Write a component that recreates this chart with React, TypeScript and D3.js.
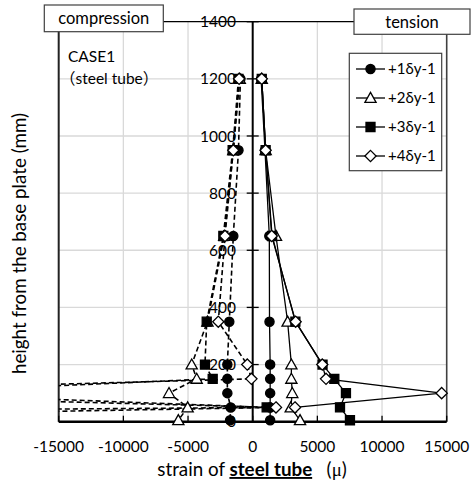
import React from "react";
import * as d3 from "d3";

// Gauge heights above the base plate (mm)
const heights = [1200, 950, 650, 350, 200, 150, 100, 50, 5];

// Legend labels for the four loading cycles
const seriesNames = ["+1δy-1", "+2δy-1", "+3δy-1", "+4δy-1"];

// Strain on the tension side (μ); null = no reading
const tension1 = [650, 950, 1285, 1300, 1350, 1350, 1350, 1350, 1350];
const tension2 = [700, 1000, 1800, 2700, 2990, 2990, 3060, 2940, 3660];
const tension3 = [700, 1000, 1500, 3300, 5400, 6310, 7210, 6750, 7520];
const tension4 = [700, 1000, 1470, 3320, 5380, 5670, 14610, 3270, null];

// Strain on the compression side (μ)
const compression1 = [-950, -1100, -1500, -1810, -1960, -1960, -1960, -1700, -1750];
const compression2 = [-1000, -1500, -2200, -3500, -4716, -4330, -6470, -5030, -5750];
const compression3 = [-1100, -1550, -2270, -3556, -3690, -3093, -28000, 1080, -126000];
const compression4 = [-1050, -1500, -2140, -2660, -420, -100, -40000, 1800, -54600];

const xTicks = [-15000, -10000, -5000, 0, 5000, 10000, 15000];
const yTicks = [0, 200, 400, 600, 800, 1000, 1200, 1400];

const W = 471;
const H = 485;
const FONT = "Lato, 'Noto Sans CJK JP', sans-serif";
const CJK = "'Noto Sans CJK JP', sans-serif";

const x = d3.scaleLinear().domain([-15000, 15000]).range([58.7, 446.7]);
const y = d3.scaleLinear().domain([0, 1400]).range([421.7, 21.7]);

type Shape = "circle" | "triangle" | "square" | "diamond";
const shapes: Shape[] = ["circle", "triangle", "square", "diamond"];

function markerPath(s: Shape): string {
  switch (s) {
    case "circle":
      return "M4.6,0A4.6,4.6,0,1,1,-4.6,0A4.6,4.6,0,1,1,4.6,0Z";
    case "triangle":
      return "M0,-5.6L5.6,4.4L-5.6,4.4Z";
    case "square":
      return "M-4.5,-4.5H4.5V4.5H-4.5Z";
    case "diamond":
      return "M0,-5.6L5.6,0L0,5.6L-5.6,0Z";
  }
}
const filled = (s: Shape) => s === "circle" || s === "square";

const tensionSeries = [tension1, tension2, tension3, tension4];
const compressionSeries = [compression1, compression2, compression3, compression4];

type Pt = { v: number; h: number };
const toPoints = (vals: (number | null)[]): Pt[] =>
  vals
    .map((v, i) => (v === null ? null : { v: v as number, h: heights[i] }))
    .filter((p): p is Pt => p !== null);

const line = d3
  .line<Pt>()
  .x((d) => x(d.v))
  .y((d) => y(d.h));

export default function App() {
  const [x0, x1] = x.range();
  const [yb, yt] = y.range();

  const marker = (s: Shape, cx: number, cy: number, key: string) => (
    <path
      key={key}
      d={markerPath(s)}
      transform={`translate(${cx},${cy})`}
      fill={filled(s) ? "#000" : "#fff"}
      stroke="#000"
      strokeWidth={1.3}
    />
  );

  return (
    <svg
      width={W}
      height={H}
      style={{ position: "absolute", left: 0, top: 0, background: "#fff" }}
      fontFamily={FONT}
    >
      <defs>
        <clipPath id="plotClip">
          <rect x={x0} y={yt} width={x1 - x0} height={yb - yt} />
        </clipPath>
      </defs>
      <rect width={W} height={H} fill="#fff" />

      {/* grid */}
      {xTicks.slice(1, -1).filter((t) => t !== 0).map((t) => (
        <line key={"gx" + t} x1={x(t)} x2={x(t)} y1={yt} y2={yb} stroke="#d9d9d9" strokeWidth={1.3} />
      ))}
      {yTicks.slice(1, -1).map((t) => (
        <line key={"gy" + t} x1={x0} x2={x1} y1={y(t)} y2={y(t)} stroke="#d9d9d9" strokeWidth={1.3} />
      ))}

      {/* plot frame */}
      <line x1={x0} x2={x1} y1={yt} y2={yt} stroke="#000" strokeWidth={1.2} />
      <line x1={x0} x2={x0} y1={yt} y2={yb} stroke="#222" strokeWidth={2} />
      <line x1={x1} x2={x1} y1={yt} y2={yb} stroke="#404040" strokeWidth={1.6} />

      {/* y tick labels */}
      {yTicks.map((t) => (
        <text key={"yl" + t} x={236} y={y(t)} dy="0.36em" textAnchor="end" fontSize={15.5} fill="#000">
          {t}
        </text>
      ))}

      {/* axes at zero */}
      <line x1={x(0)} x2={x(0)} y1={yt} y2={yb} stroke="#000" strokeWidth={2} />
      {yTicks.map((t) => (
        <line key={"yt" + t} x1={x(0) - 6} x2={x(0) + 6} y1={y(t)} y2={y(t)} stroke="#000" strokeWidth={1.3} />
      ))}
      <line x1={x0} x2={x1} y1={yb} y2={yb} stroke="#000" strokeWidth={2.5} />
      {xTicks.map((t) => (
        <line key={"xt" + t} x1={x(t)} x2={x(t)} y1={yb - 6} y2={yb} stroke="#000" strokeWidth={1.3} />
      ))}
      {xTicks.map((t) => (
        <text key={"xl" + t} x={x(t)} y={451.5} textAnchor="middle" fontSize={15.5} fill="#000">
          {t}
        </text>
      ))}

      {/* series lines */}
      <g clipPath="url(#plotClip)">
        {tensionSeries.map((vals, i) => (
          <path key={"tl" + i} d={line(toPoints(vals)) || ""} fill="none" stroke="#000" strokeWidth={1.3} />
        ))}
        {compressionSeries.map((vals, i) => (
          <path
            key={"cl" + i}
            d={line(toPoints(vals)) || ""}
            fill="none"
            stroke="#000"
            strokeWidth={1.6}
            strokeDasharray="5,3"
          />
        ))}
      </g>

      {/* series markers */}
      {shapes.map((s, i) => (
        <g key={"m" + i}>
          {toPoints(compressionSeries[i])
            .filter((p) => p.v >= -15000 && p.v <= 15000)
            .map((p, j) => marker(s, x(p.v), y(p.h), `c${i}-${j}`))}
          {toPoints(tensionSeries[i])
            .filter((p) => p.v >= -15000 && p.v <= 15000)
            .map((p, j) => marker(s, x(p.v), y(p.h), `t${i}-${j}`))}
        </g>
      ))}

      {/* case label */}
      <text x={68} y={61.5} fontSize={15.5} fill="#000">CASE1</text>
      <text x={60} y={84} fontSize={15.5} fill="#000">
        <tspan fontFamily={CJK}>（</tspan>
        <tspan>steel tube</tspan>
        <tspan fontFamily={CJK}>）</tspan>
      </text>

      {/* side captions */}
      <rect x={44.3} y={5} width={119} height={26.7} fill="#fff" stroke="#404040" strokeWidth={1.2} />
      <text x={103.8} y={24} textAnchor="middle" fontSize={16.5} fill="#000">compression</text>
      <rect x={354} y={9} width={116} height={25.3} fill="#fff" stroke="#404040" strokeWidth={1.2} />
      <text x={412} y={27.5} textAnchor="middle" fontSize={16.5} fill="#000">tension</text>

      {/* legend */}
      <rect x={349.3} y={53.3} width={92.4} height={117.4} fill="#fff" stroke="#404040" strokeWidth={1.2} />
      {seriesNames.map((name, i) => {
        const ly = 69 + i * 29;
        return (
          <g key={"lg" + i}>
            <line x1={356} x2={385} y1={ly} y2={ly} stroke="#000" strokeWidth={1.3} />
            {marker(shapes[i], 370.5, ly, "lm" + i)}
            <text x={388} y={ly} dy="0.36em" fontSize={15} fill="#000">{name}</text>
          </g>
        );
      })}

      {/* axis titles */}
      <text transform="translate(26,243.5) rotate(-90)" textAnchor="middle" fontSize={18.8} fill="#000">
        height from the base plate (mm)
      </text>
      <text x={252} y={476} textAnchor="middle" fontSize={18.8} fill="#000">
        <tspan>strain of </tspan>
        <tspan fontWeight="bold" textDecoration="underline">steel tube</tspan>
        <tspan xmlSpace="preserve">{"   ("}</tspan>
        <tspan fontFamily="'Liberation Serif', serif">μ</tspan>
        <tspan>)</tspan>
      </text>
    </svg>
  );
}
